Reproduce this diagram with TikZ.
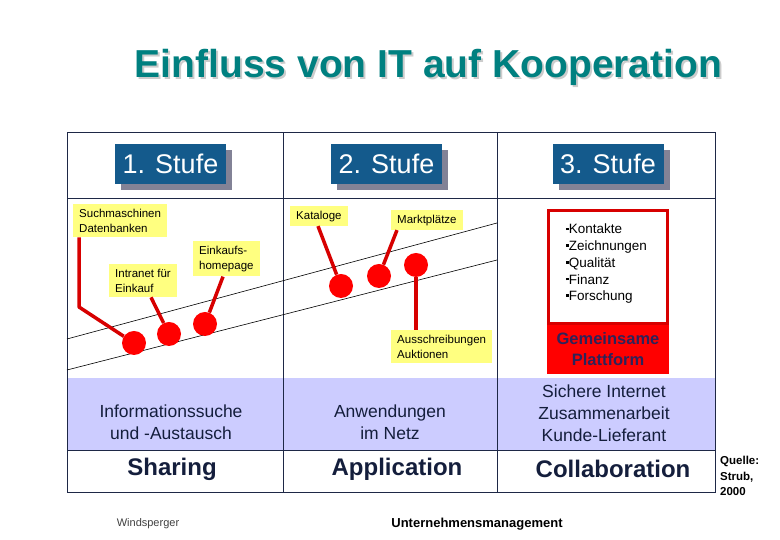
\documentclass[tikz,border=0pt]{standalone}
\usepackage{fontspec}
\setmainfont{Liberation Sans}
\usetikzlibrary{shadows}
\begin{document}
\begin{tikzpicture}[x=1pt,y=1pt,
  stufe/.style={fill=stufeColor,text=white,minimum width=111pt,minimum height=40pt,inner sep=0pt,
    font=\fontsize{27}{32}\selectfont,
    drop shadow={shadow xshift=6pt,shadow yshift=-6pt,fill=shadowColor,opacity=1}},
  gelb/.style={fill=gelbColor,align=left,anchor=north west,inner xsep=6pt,inner ysep=4.5pt,
    font=\fontsize{11.5}{15.5}\selectfont},
  punkt/.style={circle,fill=red,minimum size=24pt,inner sep=0pt},
  zeiger/.style={draw=zeigerColor,line width=3.5pt,line join=round},
  band/.style={text=textColor,align=center,font=\fontsize{17.5}{22}\selectfont},
  ebene/.style={text=textColor,font=\bfseries\fontsize{24}{28}\selectfont}]
\definecolor{fillColor}{RGB}{255,255,255}
\definecolor{stufeColor}{RGB}{20,90,140}
\definecolor{shadowColor}{RGB}{130,130,150}
\definecolor{gelbColor}{RGB}{255,255,128}
\definecolor{zeigerColor}{RGB}{215,0,0}
\definecolor{textColor}{RGB}{20,30,60}
\definecolor{plattColor}{RGB}{45,35,90}
\definecolor{lineColor}{RGB}{30,40,70}
\definecolor{bandColor}{RGB}{204,204,255}
\definecolor{titleColor}{RGB}{0,128,128}
\path[use as bounding box,fill=fillColor] (0,0) rectangle (780,540);

\node[text=gray!40,anchor=base,inner sep=0pt,font=\bfseries\fontsize{39}{44}\selectfont] (schatten) at (430.5,460) {Einfluss von IT auf Kooperation};
\node[text=titleColor,anchor=base,inner sep=0pt,font=\bfseries\fontsize{39}{44}\selectfont] (titel) at (428.5,462) {Einfluss von IT auf Kooperation};

\path[fill=bandColor] ( 67, 90) rectangle (715,162);
\path[draw=lineColor,line width=0.8pt] ( 67, 48) rectangle (715,408);
\path[draw=lineColor,line width=0.8pt] ( 67,342) -- (715,342);
\path[draw=lineColor,line width=0.8pt] ( 67, 90) -- (715, 90);
\path[draw=lineColor,line width=0.8pt] (283, 48) -- (283,408);
\path[draw=lineColor,line width=0.8pt] (497, 48) -- (497,408);

\node[stufe] (stufe1) at (170.5,376) {1. Stufe};
\node[stufe] (stufe2) at (386.5,376) {2. Stufe};
\node[stufe] (stufe3) at (608.0,376) {3. Stufe};

\coordinate (oben links) at ( 67,201);
\coordinate (oben rechts) at (497,317);
\coordinate (unten links) at ( 67,170);
\coordinate (unten rechts) at (497,280);
\path[draw=black,line width=0.6pt] (oben links) -- (oben rechts);
\path[draw=black,line width=0.6pt] (unten links) -- (unten rechts);

\node[gelb] (such) at ( 73,336) {Suchmaschinen\\Datenbanken};
\node[gelb] (intranet) at (109,276) {Intranet für\\Einkauf};
\node[gelb] (einkauf) at (193,299) {Einkaufs-\\homepage};
\node[gelb] (kataloge) at (290,334) {Kataloge};
\node[gelb] (markt) at (391,330) {Marktplätze};
\node[gelb] (auktion) at (391,210) {Ausschreibungen\\Auktionen};

\node[punkt] (c1) at (134,197) {};
\node[punkt] (c2) at (169,206) {};
\node[punkt] (c3) at (205,216) {};
\node[punkt] (c4) at (341,254) {};
\node[punkt] (c5) at (379,264) {};
\node[punkt] (c6) at (416,275) {};

\coordinate (knick) at ( 79,233);
\path[zeiger] ([xshift=6pt]such.south west) -- (knick) -- (c1);
\path[zeiger] ([xshift=42pt]intranet.south west) -- (c2);
\path[zeiger] ([xshift=30pt]einkauf.south west) -- (c3);
\path[zeiger] ([xshift=28pt]kataloge.south west) -- (c4);
\path[zeiger] ([xshift=6pt]markt.south west) -- (c5);
\path[zeiger] (c6) -- ([xshift=25pt]auktion.north west);

\node[draw=zeigerColor,line width=3pt,minimum width=119pt,minimum height=113pt,inner sep=0pt] (rahmen) at (608,273) {};
\node[anchor=north west,inner sep=0pt,align=left,font=\fontsize{13.5}{16.7}\selectfont] (punkte) at (566,316)
  {\raisebox{0.28em}{\rule{2.6pt}{2.6pt}}Kontakte\\
   \raisebox{0.28em}{\rule{2.6pt}{2.6pt}}Zeichnungen\\
   \raisebox{0.28em}{\rule{2.6pt}{2.6pt}}Qualität\\
   \raisebox{0.28em}{\rule{2.6pt}{2.6pt}}Finanz\\
   \raisebox{0.28em}{\rule{2.6pt}{2.6pt}}Forschung};
\node[fill=red,minimum width=122pt,minimum height=49pt,inner sep=0pt,align=center,text=plattColor,
  font=\bfseries\fontsize{16.5}{21}\selectfont] (plattform) at (608,190.5) {Gemeinsame\\Plattform};

\node[band] (info) at (171,118) {Informationssuche\\und -Austausch};
\node[band] (netz) at (390,118) {Anwendungen\\im Netz};
\node[band] (sicher) at (604,126.5) {Sichere Internet\\Zusammenarbeit\\Kunde-Lieferant};

\node[ebene] (sharing) at (172,71) {Sharing};
\node[ebene] (application) at (397,71) {Application};
\node[ebene] (collaboration) at (613,71) {Collaboration};

\node[anchor=north west,inner sep=0pt,align=left,font=\bfseries\fontsize{11.5}{15.5}\selectfont] (quelle) at (720,84) {Quelle:\\Strub,\\2000};
\node[text=black!75,inner sep=0pt,font=\fontsize{11}{13}\selectfont] (autor) at (148,16) {Windsperger};
\node[inner sep=0pt,font=\bfseries\fontsize{13}{15}\selectfont] (fach) at (477,16) {Unternehmensmanagement};
\end{tikzpicture}
\end{document}
